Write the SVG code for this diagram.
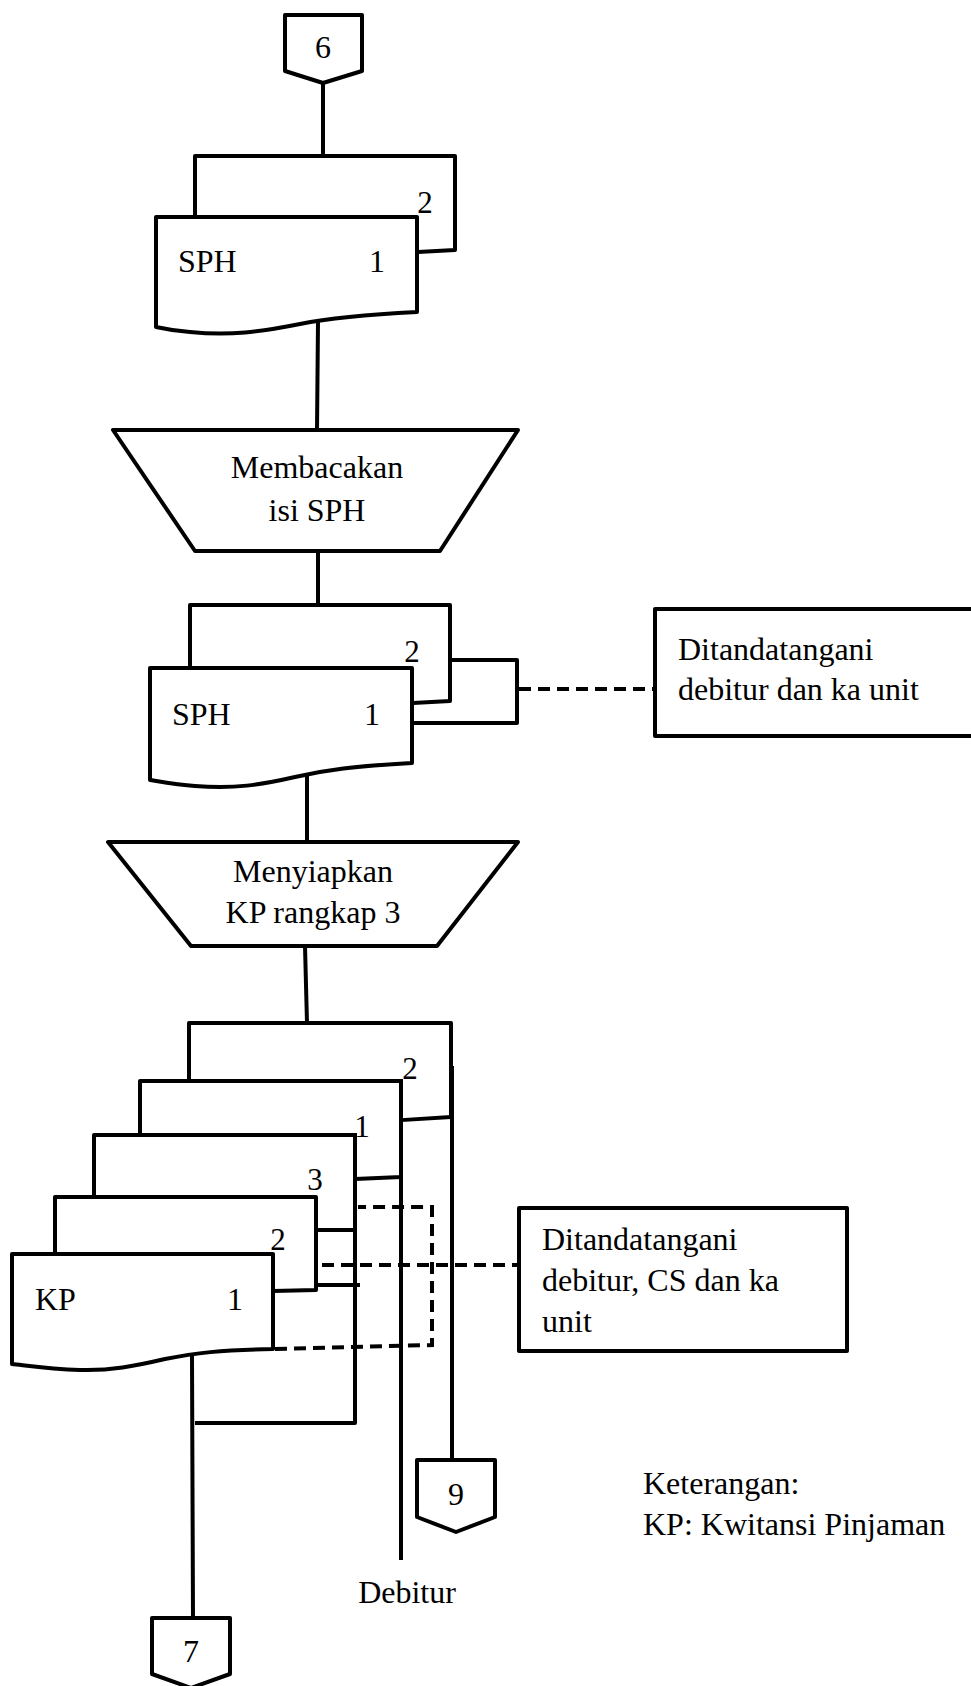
<svg xmlns="http://www.w3.org/2000/svg" width="971" height="1686" viewBox="0 0 971 1686">
  <style>
    .ln { fill: none; stroke: #000; stroke-width: 4; stroke-linejoin: round; stroke-linecap: square; }
    .sh { fill: #fff; stroke: #000; stroke-width: 4; stroke-linejoin: round; }
    .dash { fill: none; stroke: #000; stroke-width: 4; stroke-dasharray: 12 7; }
    text { font-family: "Liberation Serif", "Times New Roman", serif; font-size: 32px; fill: #000; }
    .c { text-anchor: middle; }
    .lbl { font-size: 31px; }
  </style>

  <rect width="971" height="1686" fill="#fff"/>

  <!-- connectors -->
  <g id="connectors">
    <line class="ln" x1="323" y1="83" x2="323" y2="156"/>
    <line class="ln" x1="318" y1="322" x2="317" y2="430"/>
    <line class="ln" x1="318" y1="551" x2="318" y2="605"/>
    <line class="ln" x1="307" y1="775" x2="307" y2="842"/>
    <line class="ln" x1="305" y1="946" x2="307" y2="1023"/>
    <!-- SPH bracket to note -->
    <path class="ln" d="M452 660 H517 V723 H407"/>
    <line class="dash" x1="519" y1="689" x2="655" y2="689"/>
    <!-- KP bracket to note -->
    <path class="dash" d="M275 1349 L432 1345 V1207 H358"/>
    <line class="dash" x1="322" y1="1265" x2="519" y2="1265"/>
    <!-- outgoing flows -->
    <line class="ln" x1="192" y1="1358" x2="193" y2="1618"/>
    <line class="ln" x1="401" y1="1081" x2="401" y2="1558"/>
    <line class="ln" x1="452" y1="1068" x2="452" y2="1460"/>
    <path class="ln" d="M355 1135 V1423 H197"/>
  </g>

  <!-- off-page connector 6 -->
  <g id="conn-6">
    <path class="sh" d="M285 15 H362 V71 L323 83 L285 71 Z"/>
    <text class="c" x="323" y="58">6</text>
  </g>

  <!-- SPH, two copies -->
  <g id="doc-sph-a">
    <path class="sh" d="M195 217 V156 H455 V250 L418 252"/>
    <text class="c lbl" x="425" y="213">2</text>
    <path class="sh" d="M156 217 H417 V312 C360 315 330 318 300 324 C260 332 230 336 190 332 C175 331 165 329 156 327 Z"/>
    <text x="178" y="272">SPH</text>
    <text class="c" x="377" y="272">1</text>
  </g>

  <!-- process: Membacakan isi SPH -->
  <g id="proc-membacakan">
    <path class="sh" d="M113 430 H518 L440 551 H195 Z"/>
    <text class="c" x="317" y="478">Membacakan</text>
    <text class="c" x="317" y="521">isi SPH</text>
  </g>

  <!-- SPH, two copies, signed -->
  <g id="doc-sph-b">
    <path class="sh" d="M190 668 V605 H450 V701 L413 703"/>
    <text class="c lbl" x="412" y="662">2</text>
    <path class="sh" d="M150 668 H412 V763 C355 766 325 770 295 777 C260 785 235 789 195 786 C178 785 162 782 150 780 Z"/>
    <text x="172" y="725">SPH</text>
    <text class="c" x="372" y="725">1</text>
  </g>

  <!-- note: signed by debitur and ka unit -->
  <g id="note-sph">
    <rect class="sh" x="655" y="609" width="325" height="127"/>
    <text x="678" y="660">Ditandatangani</text>
    <text x="678" y="700">debitur dan ka unit</text>
  </g>

  <!-- process: Menyiapkan KP rangkap 3 -->
  <g id="proc-menyiapkan">
    <path class="sh" d="M108 842 H518 L437 946 H191 Z"/>
    <text class="c" x="313" y="882">Menyiapkan</text>
    <text class="c" x="313" y="923">KP rangkap 3</text>
  </g>

  <!-- stacked documents: SPH 2, SPH 1, KP 3, KP 2, KP 1 -->
  <g id="doc-stack">
    <path class="ln" d="M189 1081 V1023 H451 V1117 L403 1120"/>
    <text class="c lbl" x="410" y="1079">2</text>
    <path class="ln" d="M140 1135 V1081 H401 V1177 L357 1179"/>
    <text class="c lbl" x="362" y="1137">1</text>
    <path class="ln" d="M94 1197 V1135 H355"/>
    <path class="ln" d="M318 1230 H355"/>
    <path class="ln" d="M319 1285 H358"/>
    <text class="c lbl" x="315" y="1190">3</text>
    <path class="ln" d="M55 1254 V1197 H316 V1290 L275 1291"/>
    <text class="c lbl" x="278" y="1250">2</text>
    <path class="sh" d="M12 1254 H273 V1349 C220 1350 195 1353 165 1359 C135 1366 110 1371 80 1370 C50 1369 30 1366 12 1364 Z"/>
    <text x="35" y="1310">KP</text>
    <text class="c" x="235" y="1310">1</text>
  </g>

  <!-- note: signed by debitur, CS and ka unit -->
  <g id="note-kp">
    <rect class="sh" x="519" y="1208" width="328" height="143"/>
    <text x="542" y="1250">Ditandatangani</text>
    <text x="542" y="1291">debitur, CS dan ka</text>
    <text x="542" y="1332">unit</text>
  </g>

  <!-- off-page connector 9 -->
  <g id="conn-9">
    <path class="sh" d="M417 1460 H495 V1517 L456 1532 L417 1517 Z"/>
    <text class="c" x="456" y="1505">9</text>
  </g>

  <!-- terminal label -->
  <g id="label-debitur">
    <text class="c" x="407" y="1603">Debitur</text>
  </g>

  <!-- off-page connector 7 -->
  <g id="conn-7">
    <path class="sh" d="M152 1618 H230 V1674 L191 1688 L152 1674 Z"/>
    <text class="c" x="191" y="1662">7</text>
  </g>

  <!-- legend -->
  <g id="legend">
    <text x="643" y="1494">Keterangan:</text>
    <text x="643" y="1535">KP: Kwitansi Pinjaman</text>
  </g>
</svg>
